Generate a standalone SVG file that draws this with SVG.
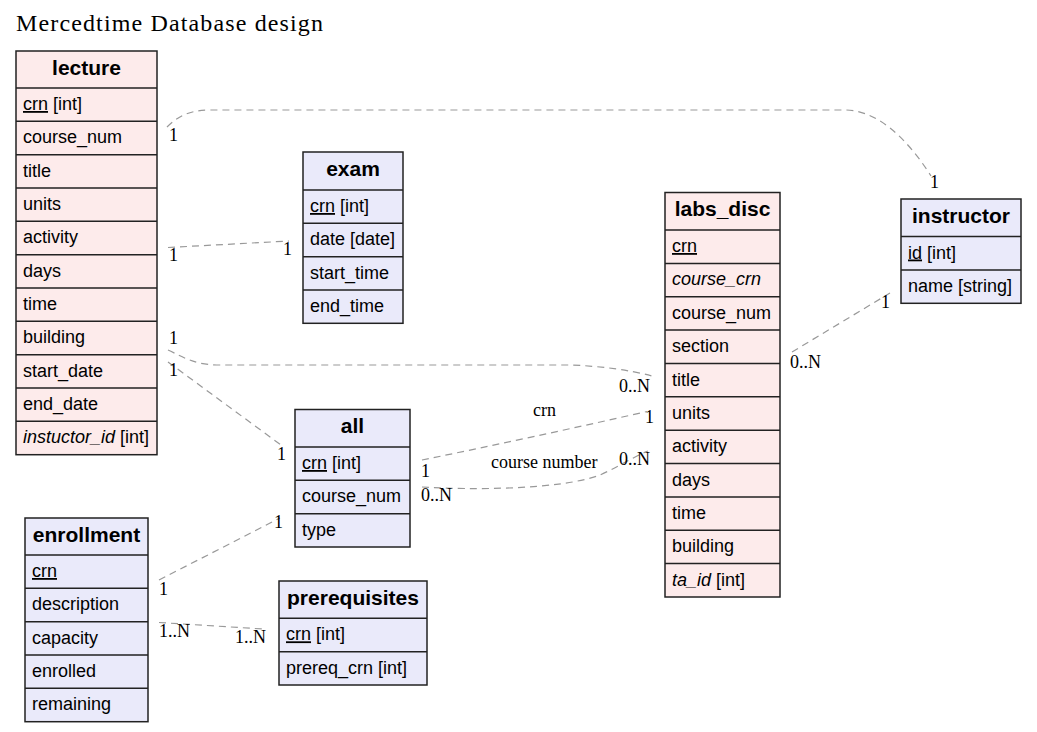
<svg xmlns="http://www.w3.org/2000/svg" width="1037" height="732" viewBox="0 0 1037 732">
<style>
.pink{fill:#fdebeb;stroke:#222;stroke-width:1.5}
.lav{fill:#eaeafa;stroke:#222;stroke-width:1.5}
.sep{stroke:#222;stroke-width:1.5}
.h{font-family:"Liberation Sans",Arial,sans-serif;font-size:21px;font-weight:bold;text-anchor:middle;fill:#000}
.r{font-family:"Liberation Sans",Arial,sans-serif;font-size:18px;fill:#000}
.u{text-decoration:underline}
.i{font-style:italic}
.lbl{font-family:"Liberation Serif","Times New Roman",serif;font-size:18px;fill:#000}
.e{fill:none;stroke:#999;stroke-width:1.2;stroke-dasharray:7,5}
</style>
<rect x="0" y="0" width="1037" height="732" fill="#fff"/>
<text x="16" y="31" font-family="Liberation Serif,'Times New Roman',serif" font-size="24" textLength="307" lengthAdjust="spacing">Mercedtime Database design</text>

<g id="connectors">
<path class="e" d="M167,127 C178,116 190,110 210,110 L845,110 C875,110 905,135 931,176"/>
<path class="e" d="M168,247.5 L289,241"/>
<path class="e" d="M168,350 C185,358 195,365 220,365 L570,365 C600,366 630,370 652,376"/>
<path class="e" d="M168,362 L281,445"/>
<path class="e" d="M422,460 Q530,438 647,411.5"/>
<path class="e" d="M422,487 C470,490 560,490 600,475 C620,466 635,456 648,451"/>
<path class="e" d="M792,352 L890,293"/>
<path class="e" d="M159,580 L280,518"/>
<path class="e" d="M159,622.5 L263,629"/>
<text class="lbl" x="169" y="141">1</text>
<text class="lbl" x="930" y="188">1</text>
<text class="lbl" x="169" y="261">1</text>
<text class="lbl" x="283" y="255">1</text>
<text class="lbl" x="169" y="344">1</text>
<text class="lbl" x="619" y="392">0..N</text>
<text class="lbl" x="169" y="376">1</text>
<text class="lbl" x="277" y="460">1</text>
<text class="lbl" x="533" y="416">crn</text>
<text class="lbl" x="421" y="477">1</text>
<text class="lbl" x="645" y="423">1</text>
<text class="lbl" x="491" y="468">course number</text>
<text class="lbl" x="421" y="501">0..N</text>
<text class="lbl" x="619" y="465">0..N</text>
<text class="lbl" x="790" y="368">0..N</text>
<text class="lbl" x="881" y="308">1</text>
<text class="lbl" x="159" y="595">1</text>
<text class="lbl" x="274" y="528">1</text>
<text class="lbl" x="159" y="637">1..N</text>
<text class="lbl" x="235" y="643">1..N</text>
</g>

<g id="lecture">
<rect class="pink" x="16" y="51" width="141" height="403.7"/>
<path class="sep" d="M16,88H157M16,121.3H157M16,154.7H157M16,188H157M16,221.3H157M16,254.7H157M16,288H157M16,321.3H157M16,354.7H157M16,388H157M16,421.3H157"/>
<text class="h" x="86.5" y="74.5">lecture</text>
<text class="r" x="23" y="110"><tspan class="u">crn</tspan> [int]</text>
<text class="r" x="23" y="143.3">course_num</text>
<text class="r" x="23" y="176.7">title</text>
<text class="r" x="23" y="210">units</text>
<text class="r" x="23" y="243.3">activity</text>
<text class="r" x="23" y="276.7">days</text>
<text class="r" x="23" y="310">time</text>
<text class="r" x="23" y="343.3">building</text>
<text class="r" x="23" y="376.7">start_date</text>
<text class="r" x="23" y="410">end_date</text>
<text class="r" x="23" y="443.3"><tspan class="i">instuctor_id</tspan> [int]</text>
</g>

<g id="exam">
<rect class="lav" x="303" y="152" width="100" height="171.3"/>
<path class="sep" d="M303,190H403M303,223.3H403M303,256.7H403M303,290H403"/>
<text class="h" x="353" y="175.5">exam</text>
<text class="r" x="310" y="212"><tspan class="u">crn</tspan> [int]</text>
<text class="r" x="310" y="245.3">date [date]</text>
<text class="r" x="310" y="278.7">start_time</text>
<text class="r" x="310" y="312">end_time</text>
</g>

<g id="all">
<rect class="lav" x="295" y="409.5" width="115" height="137.5"/>
<path class="sep" d="M295,447H410M295,480.3H410M295,513.7H410"/>
<text class="h" x="352.5" y="433">all</text>
<text class="r" x="302" y="469"><tspan class="u">crn</tspan> [int]</text>
<text class="r" x="302" y="502.3">course_num</text>
<text class="r" x="302" y="535.7">type</text>
</g>

<g id="labs_disc">
<rect class="pink" x="665" y="192.5" width="115" height="404.5"/>
<path class="sep" d="M665,230H780M665,263.4H780M665,296.7H780M665,330.1H780M665,363.5H780M665,396.8H780M665,430.2H780M665,463.5H780M665,496.9H780M665,530.3H780M665,563.6H780"/>
<text class="h" x="722.5" y="216">labs_disc</text>
<text class="r" x="672" y="252"><tspan class="u">crn</tspan></text>
<text class="r i" x="672" y="285.4">course_crn</text>
<text class="r" x="672" y="318.7">course_num</text>
<text class="r" x="672" y="352.1">section</text>
<text class="r" x="672" y="385.5">title</text>
<text class="r" x="672" y="418.8">units</text>
<text class="r" x="672" y="452.2">activity</text>
<text class="r" x="672" y="485.5">days</text>
<text class="r" x="672" y="518.9">time</text>
<text class="r" x="672" y="552.3">building</text>
<text class="r" x="672" y="585.6"><tspan class="i">ta_id</tspan> [int]</text>
</g>

<g id="instructor">
<rect class="lav" x="901" y="199" width="120" height="104.3"/>
<path class="sep" d="M901,236.5H1021M901,270H1021"/>
<text class="h" x="961" y="223">instructor</text>
<text class="r" x="908" y="258.5"><tspan class="u">id</tspan> [int]</text>
<text class="r" x="908" y="292">name [string]</text>
</g>

<g id="enrollment">
<rect class="lav" x="25" y="518" width="123" height="203.7"/>
<path class="sep" d="M25,555H148M25,588.3H148M25,621.7H148M25,655H148M25,688.3H148"/>
<text class="h" x="86.5" y="541.5">enrollment</text>
<text class="r" x="32" y="577"><tspan class="u">crn</tspan></text>
<text class="r" x="32" y="610.3">description</text>
<text class="r" x="32" y="643.7">capacity</text>
<text class="r" x="32" y="677">enrolled</text>
<text class="r" x="32" y="710.3">remaining</text>
</g>

<g id="prerequisites">
<rect class="lav" x="279" y="581" width="148" height="104"/>
<path class="sep" d="M279,618.3H427M279,651.7H427"/>
<text class="h" x="353" y="604.5">prerequisites</text>
<text class="r" x="286" y="640.3"><tspan class="u">crn</tspan> [int]</text>
<text class="r" x="286" y="673.7">prereq_crn [int]</text>
</g>
</svg>
